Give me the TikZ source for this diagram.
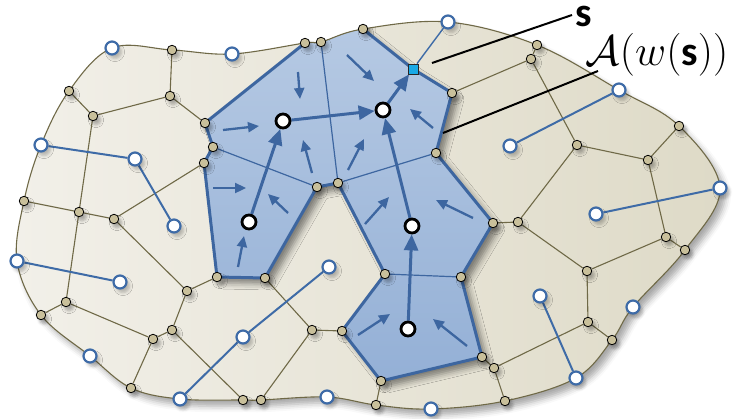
\documentclass[tikz,border=0pt]{standalone}
\usepackage{fontspec}
\newfontfamily\carl{Carlito}
\usetikzlibrary{arrows.meta,shadows.blur}
\definecolor{tanline}{HTML}{6F6947}
\definecolor{tanfill}{HTML}{C9C09B}
\definecolor{sblue}{HTML}{3D66A0}
\definecolor{lblue}{HTML}{3E6BA7}
\definecolor{cellA}{HTML}{B8CBE4}
\definecolor{cellB}{HTML}{94B0D6}
\definecolor{domA}{HTML}{F2F0E9}
\definecolor{domB}{HTML}{DEDAC7}
\definecolor{sqcyan}{HTML}{19A9E6}
\pgfdeclarelayer{background}
\pgfsetlayers{background,main}
\def\dompath{plot[smooth cycle, tension=0.6] coordinates {(112,48) (172,50) (232,54) (305,43) (321,42) (363,29) (448,22) (537,45) (619,90) (679,126) (720,188) (685,250) (633,307) (612,340) (576,378) (505,401) (431,409) (376,405) (327,397) (261,400) (243,400) (180,399) (131,388) (90,356) (41,315) (17,261) (24,201) (41,145) (69,91)}}
\tikzset{
  vdot/.style={circle, inner sep=0pt, minimum size=9.5pt, fill=tanfill, draw=black, line width=0.8pt,
    blur shadow={shadow xshift=3pt, shadow yshift=-4pt, shadow opacity=30, shadow blur radius=3pt}},
  bsite/.style={circle, inner sep=0pt, minimum size=13pt, fill=white, draw=lblue, line width=2.2pt,
    blur shadow={shadow xshift=3pt, shadow yshift=-4pt, shadow opacity=25, shadow blur radius=3pt}},
  ksite/.style={circle, inner sep=0pt, minimum size=14pt, fill=white, draw=black, line width=2.8pt},
  sqnode/.style={rectangle, inner sep=0pt, minimum size=10pt, fill=sqcyan, draw=black!85, line width=0.8pt},
  tanedge/.style={draw=tanline, line width=1.1pt},
  celledge/.style={draw=sblue, line width=1.2pt},
  siteline/.style={draw=lblue, line width=2pt},
  bigarrow/.style={draw=sblue, line width=3pt, -{Triangle[length=16pt,width=14pt]}},
  smallarrow/.style={draw=sblue, line width=2.3pt, -{Triangle[length=11pt,width=10pt]}},
  leader/.style={draw=black, line width=2pt},
  labtext/.style={font=\fontsize{24}{28}\selectfont, inner sep=0pt, scale=1.72, anchor=base}
}
\begin{document}
\begin{tikzpicture}[x=1pt,y=-1pt]
\useasboundingbox (0,0) rectangle (734,418);
% ---------- nodes ----------
% polygon corner dots
\node[vdot] (P1) at (205,123) {};
\node[vdot] (P2) at (213,147) {};
\node[vdot] (P3) at (204,163) {};
\node[vdot] (P4) at (217,277) {};
\node[vdot] (P5) at (265,278) {};
\node[vdot] (P6) at (342,331) {};
\node[vdot] (P7) at (381,381) {};
\node[vdot] (P8) at (482,357) {};
\node[vdot] (P9) at (461,277) {};
\node[vdot] (P10) at (385,274) {};
\node[vdot] (P11) at (493,223) {};
\node[vdot] (P12) at (452,93) {};
\node[vdot] (P13) at (436,153) {};
\node[sqnode] (P14) at (413,69) {};
\node[vdot] (P15) at (363,29) {};
\node[vdot] (P16) at (321,42) {};
\node[vdot] (P17) at (305,43) {};
\node[vdot] (P18) at (317,187) {};
\node[vdot] (P19) at (338,183) {};
% interior voronoi vertices
\node[vdot] (V1) at (170,96) {};
\node[vdot] (V2) at (93,116) {};
\node[vdot] (V3) at (79,212) {};
\node[vdot] (V4) at (114,219) {};
\node[vdot] (V5) at (187,291) {};
\node[vdot] (V6) at (66,302) {};
\node[vdot] (V7) at (153,339) {};
\node[vdot] (V8) at (172,330) {};
\node[vdot] (V9) at (312,330) {};
\node[vdot] (V10) at (494,368) {};
\node[vdot] (V11) at (518,222) {};
\node[vdot] (V12) at (587,271) {};
\node[vdot] (V13) at (588,322) {};
\node[vdot] (V14) at (666,237) {};
\node[vdot] (V15) at (648,160) {};
\node[vdot] (V16) at (577,145) {};
\node[vdot] (V17) at (531,59) {};
% boundary vertices
\node[vdot] (B1) at (172,50) {};
\node[vdot] (B2) at (69,91) {};
\node[vdot] (B3) at (24,201) {};
\node[vdot] (B4) at (41,315) {};
\node[vdot] (B5) at (131,388) {};
\node[vdot] (B6) at (243,400) {};
\node[vdot] (B7) at (261,400) {};
\node[vdot] (B8) at (376,405) {};
\node[vdot] (B9) at (505,401) {};
\node[vdot] (B10) at (612,340) {};
\node[vdot] (B11) at (685,250) {};
\node[vdot] (B12) at (679,126) {};
\node[vdot] (B13) at (537,45) {};
% blue sites
\node[bsite] (C1) at (112,48) {};
\node[bsite] (C2) at (232,54) {};
\node[bsite] (C3) at (448,22) {};
\node[bsite] (C4) at (619,90) {};
\node[bsite] (C5) at (510,146) {};
\node[bsite] (C6) at (720,188) {};
\node[bsite] (C7) at (596,214) {};
\node[bsite] (C8) at (633,307) {};
\node[bsite] (C9) at (540,296) {};
\node[bsite] (C10) at (576,378) {};
\node[bsite] (C11) at (431,409) {};
\node[bsite] (C12) at (327,397) {};
\node[bsite] (C13) at (329,267) {};
\node[bsite] (C14) at (243,337) {};
\node[bsite] (C15) at (180,399) {};
\node[bsite] (C16) at (90,356) {};
\node[bsite] (C17) at (17,261) {};
\node[bsite] (C18) at (120,282) {};
\node[bsite] (C19) at (41,145) {};
\node[bsite] (C20) at (135,159) {};
\node[bsite] (C21) at (174,226) {};
% black sites
\node[ksite] (S1) at (283,121) {};
\node[ksite] (S2) at (383,110) {};
\node[ksite] (S3) at (249,222) {};
\node[ksite] (S4) at (412,226) {};
\node[ksite] (S5) at (408,329) {};
% labels
\node[labtext] (slab) at (584,26) {\carl\bfseries s};
\node[labtext] (alab) at (657,65) {$\mathcal{A}(w(\mbox{\carl\bfseries s}))$};
\coordinate (l1a) at (432,63);
\coordinate (l1b) at (572,15);
\coordinate (l2a) at (443,133);
\coordinate (l2b) at (598,71);

\begin{pgfonlayer}{background}
% domain
\fill[white, blur shadow={shadow xshift=5pt, shadow yshift=-6pt, shadow opacity=35, shadow blur radius=6pt}] \dompath;
\shade[left color=domA, right color=domB] \dompath;
% tan voronoi edges
\draw[tanedge] (B1) -- (V1);
\draw[tanedge] (V1) -- (V2);
\draw[tanedge] (V2) -- (B2);
\draw[tanedge] (V1) -- (P1);
\draw[tanedge] (V2) -- (V3);
\draw[tanedge] (P3) -- (V4);
\draw[tanedge] (V3) -- (V4);
\draw[tanedge] (B3) -- (V3);
\draw[tanedge] (V4) -- (V5);
\draw[tanedge] (V5) -- (P4);
\draw[tanedge] (V3) -- (V6);
\draw[tanedge] (V6) -- (B4);
\draw[tanedge] (V6) -- (V7);
\draw[tanedge] (V7) -- (V8);
\draw[tanedge] (V8) -- (V5);
\draw[tanedge] (V7) -- (B5);
\draw[tanedge] (V8) -- (B6);
\draw[tanedge] (P5) -- (V9);
\draw[tanedge] (V9) -- (P6);
\draw[tanedge] (V9) -- (B7);
\draw[tanedge] (P7) -- (B8);
\draw[tanedge] (P8) -- (V10);
\draw[tanedge] (V10) -- (B9);
\draw[tanedge] (V10) -- (V13);
\draw[tanedge] (V13) -- (B10);
\draw[tanedge] (V13) -- (V12);
\draw[tanedge] (V12) -- (V11);
\draw[tanedge] (V11) -- (P11);
\draw[tanedge] (V12) -- (V14);
\draw[tanedge] (V14) -- (B11);
\draw[tanedge] (V14) -- (V15);
\draw[tanedge] (V15) -- (B12);
\draw[tanedge] (V15) -- (V16);
\draw[tanedge] (V16) -- (V11);
\draw[tanedge] (V16) -- (V17);
\draw[tanedge] (V17) -- (B13);
\draw[tanedge] (V17) -- (P12);
% blue region
\begin{scope}
\clip \dompath;
\fill[top color=cellA, bottom color=cellB,
  blur shadow={shadow xshift=6pt, shadow yshift=-6pt, shadow opacity=45, shadow blur radius=6pt}]
  (P17.center) -- (305,0) -- (363,0) -- (P15.center) -- (P14.center) -- (P12.center) -- (P13.center)
  -- (P11.center) -- (P9.center) -- (P8.center) -- (P7.center) -- (P6.center) -- (P10.center)
  -- (P19.center) -- (P18.center) -- (P5.center) -- (P4.center) -- (P3.center) -- (P2.center)
  -- (P1.center) -- cycle;
\end{scope}
\draw[draw=tanline, line width=1.1pt] \dompath;
% cell edges inside region
\draw[celledge] (P16) -- (P19);
\draw[celledge] (P2) -- (P18);
\draw[celledge] (P19) -- (P13);
\draw[celledge] (P10) -- (P9);
% region outline
\draw[sblue, line width=3pt, line join=round]
  (P15.center) -- (P14.center) -- (P12.center) -- (P13.center) -- (P11.center) -- (P9.center)
  -- (P8.center) -- (P7.center) -- (P6.center) -- (P10.center) -- (P19.center) -- (P18.center)
  -- (P5.center) -- (P4.center) -- (P3.center) -- (P2.center) -- (P1.center) -- (P17.center);
% site links
\draw[siteline] (C19) -- (C20);
\draw[siteline] (C20) -- (C21);
\draw[siteline] (C17) -- (C18);
\draw[siteline] (C13) -- (C14);
\draw[siteline] (C14) -- (C15);
\draw[siteline] (C4) -- (C5);
\draw[siteline] (C6) -- (C7);
\draw[siteline] (C9) -- (C10);
\draw[draw=lblue, line width=1.4pt] (P14) -- (C3);
% leader lines
\draw[leader] (l1a) -- (l1b);
\draw[leader] (l2a) -- (l2b);
% small arrows
\draw[smallarrow] (223,130) -- (259,126);
\draw[smallarrow] (298,72) -- (300,99);
\draw[smallarrow] (347,55) -- (374,81);
\draw[smallarrow] (433,128) -- (410,109);
\draw[smallarrow] (312,173) -- (303,140);
\draw[smallarrow] (348,170) -- (364,139);
\draw[smallarrow] (213,188) -- (246,188);
\draw[smallarrow] (288,213) -- (268,194);
\draw[smallarrow] (238,267) -- (244,236);
\draw[smallarrow] (365,224) -- (389,197);
\draw[smallarrow] (473,218) -- (436,200);
\draw[smallarrow] (358,335) -- (390,314);
\draw[smallarrow] (467,346) -- (433,319);
% site arrows
\draw[bigarrow] (S3) -- (S1);
\draw[bigarrow] (S1) -- (S2);
\draw[bigarrow] (S4) -- (S2);
\draw[bigarrow] (S5) -- (S4);
\draw[bigarrow] (S2) -- (P14);
\end{pgfonlayer}
\end{tikzpicture}
\end{document}
